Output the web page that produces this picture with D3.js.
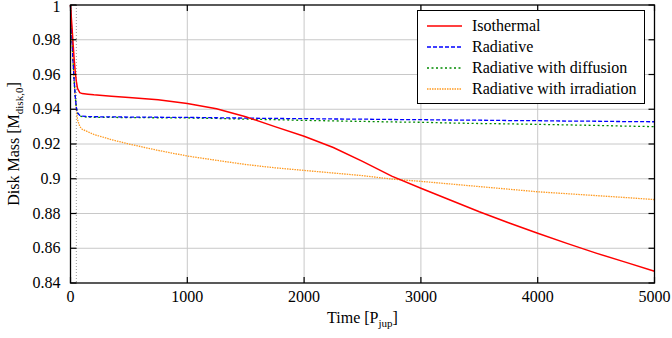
<!DOCTYPE html>
<meta charset="utf-8">
<head>
<style>
body { margin: 0; background: #fff; }
text { font-family: "Liberation Serif", "Times New Roman", serif; font-size: 16px; fill: #000; }
.grid line { stroke: #c8c8c8; stroke-width: 1; }
.frame { fill: none; stroke: #000; stroke-width: 1.3; }
.tick-mark { stroke: #000; stroke-width: 1.2; }
</style>
</head>
<body>
<script src="https://cdn.jsdelivr.net/npm/d3@7"></script>
<script>

// time in Jupiter orbits
var times = [0, 10, 20, 30, 40, 50, 60, 80, 100, 150, 200, 350, 500, 750, 1000, 1250, 1500, 1750,
             2000, 2250, 2500, 2750, 3000, 3250, 3500, 3750, 4000, 4250, 4500, 4750, 5000];

var isothermal = [1.0, 0.99, 0.98, 0.97, 0.962, 0.956, 0.952, 0.9495, 0.949, 0.9487, 0.9483, 0.9475, 0.9467, 0.9454, 0.9433, 0.9403, 0.9357, 0.9300,
                  0.9245, 0.9180, 0.9100, 0.9015, 0.8945, 0.8878, 0.8810, 0.8747, 0.8686, 0.8628, 0.8572, 0.8520, 0.8468];
var radiative = [1.0, 0.985, 0.97, 0.958, 0.948, 0.941, 0.938, 0.9365, 0.936, 0.9358, 0.9357, 0.9356, 0.9355, 0.9354, 0.9353, 0.9351, 0.9349, 0.9347,
                 0.9346, 0.9344, 0.9343, 0.9341, 0.934, 0.9338, 0.9337, 0.9335, 0.9334, 0.9332, 0.9331, 0.9329, 0.9328];
var diffusion = [1.0, 0.985, 0.97, 0.958, 0.948, 0.941, 0.9378, 0.9362, 0.9357, 0.9355, 0.9354, 0.9353, 0.9352, 0.9351, 0.935, 0.9347, 0.9343, 0.934,
                 0.9336, 0.9333, 0.933, 0.9327, 0.9325, 0.9321, 0.9318, 0.9316, 0.9313, 0.931, 0.9307, 0.9303, 0.930];
var irradiation = [1.0, 0.985, 0.97, 0.957, 0.947, 0.940, 0.934, 0.930, 0.9285, 0.927, 0.9255, 0.9225, 0.920, 0.9163, 0.9131, 0.9106, 0.9082, 0.9063,
                   0.9048, 0.9033, 0.9018, 0.8998, 0.8985, 0.8970, 0.8955, 0.894, 0.8925, 0.8914, 0.8903, 0.8892, 0.888];

var seriesNames = ["Isothermal", "Radiative", "Radiative with diffusion", "Radiative with irradiation"];
var xTicks = [0, 1000, 2000, 3000, 4000, 5000];
var yTicks = [0.84, 0.86, 0.88, 0.9, 0.92, 0.94, 0.96, 0.98, 1];
var markerTime = 50;

var styles = [
  {color: "#ff0000", width: 1.5, dash: null},
  {color: "#0000ff", width: 1.3, dash: "4,2"},
  {color: "#008a00", width: 1.3, dash: "2,2.5"},
  {color: "#ff9a20", width: 1.3, dash: "1.5,1"}
];

var width = 672, height = 338;
var plotLeft = 70.5, plotRight = 654.5, plotTop = 5, plotBottom = 283;

var x = d3.scaleLinear().domain([0, 5000]).range([plotLeft, plotRight]);
var y = d3.scaleLinear().domain([0.84, 1]).range([plotBottom, plotTop]);

var svg = d3.select("body").append("svg")
    .attr("width", width)
    .attr("height", height);

// grid
var grid = svg.append("g").attr("class", "grid");
grid.selectAll(".gx").data(xTicks.slice(1, -1)).enter().append("line")
    .attr("x1", x).attr("x2", x).attr("y1", plotTop).attr("y2", plotBottom);
grid.selectAll(".gy").data(yTicks.slice(1, -1)).enter().append("line")
    .attr("x1", plotLeft).attr("x2", plotRight).attr("y1", y).attr("y2", y);

// dotted marker line
svg.append("line")
    .attr("x1", x(markerTime)).attr("x2", x(markerTime))
    .attr("y1", plotTop).attr("y2", plotBottom)
    .attr("stroke", "#999").attr("stroke-width", 1)
    .attr("stroke-dasharray", "1,2");

// curves
var allSeries = [isothermal, radiative, diffusion, irradiation];
var line = d3.line()
    .x(function(d, i) { return x(times[i]); })
    .y(function(d) { return y(d); });

var curves = svg.append("g");
// draw back to front so the red sits on top
[3, 2, 1, 0].forEach(function(k) {
  curves.append("path")
      .attr("d", line(allSeries[k]))
      .attr("fill", "none")
      .attr("stroke", styles[k].color)
      .attr("stroke-width", styles[k].width)
      .attr("stroke-dasharray", styles[k].dash);
});

// frame + mirrored ticks
svg.append("rect").attr("class", "frame")
    .attr("x", plotLeft).attr("y", plotTop)
    .attr("width", plotRight - plotLeft).attr("height", plotBottom - plotTop);

var tl = 6;
var ticks = svg.append("g");
xTicks.forEach(function(t) {
  ticks.append("line").attr("class", "tick-mark")
      .attr("x1", x(t)).attr("x2", x(t)).attr("y1", plotBottom).attr("y2", plotBottom - tl);
  ticks.append("line").attr("class", "tick-mark")
      .attr("x1", x(t)).attr("x2", x(t)).attr("y1", plotTop).attr("y2", plotTop + tl);
  ticks.append("text")
      .attr("x", x(t)).attr("y", plotBottom + 19)
      .attr("text-anchor", "middle")
      .text(t);
});
yTicks.forEach(function(v) {
  ticks.append("line").attr("class", "tick-mark")
      .attr("x1", plotLeft).attr("x2", plotLeft + tl).attr("y1", y(v)).attr("y2", y(v));
  ticks.append("line").attr("class", "tick-mark")
      .attr("x1", plotRight).attr("x2", plotRight - tl).attr("y1", y(v)).attr("y2", y(v));
  // keep the top label inside the page
  ticks.append("text")
      .attr("x", plotLeft - 10).attr("y", Math.max(y(v) + 5, 12))
      .attr("text-anchor", "end")
      .text(d3.format("~g")(v));
});

// axis titles
var xt = svg.append("text")
    .attr("x", (plotLeft + plotRight) / 2).attr("y", 323)
    .attr("text-anchor", "middle");
xt.append("tspan").text("Time [P");
xt.append("tspan").attr("dy", 4).attr("font-size", "11px").text("jup");
xt.append("tspan").attr("dy", -4).text("]");

var yt = svg.append("text")
    .attr("transform", "translate(19," + ((plotTop + plotBottom) / 2) + ") rotate(-90)")
    .attr("text-anchor", "middle");
yt.append("tspan").text("Disk Mass [M");
yt.append("tspan").attr("dy", 4).attr("font-size", "11px").text("disk,0");
yt.append("tspan").attr("dy", -4).text("]");

// legend
var legend = svg.append("g");
legend.append("rect")
    .attr("x", 417.5).attr("y", 10.5)
    .attr("width", 227).attr("height", 93)
    .attr("fill", "#fff").attr("stroke", "#000").attr("stroke-width", 1);
seriesNames.forEach(function(name, k) {
  var ly = 26 + k * 21;
  legend.append("line")
      .attr("x1", 427).attr("x2", 462).attr("y1", ly).attr("y2", ly)
      .attr("stroke", styles[k].color)
      .attr("stroke-width", styles[k].width)
      .attr("stroke-dasharray", styles[k].dash);
  legend.append("text")
      .attr("x", 472).attr("y", ly + 5)
      .text(name);
});

</script>
